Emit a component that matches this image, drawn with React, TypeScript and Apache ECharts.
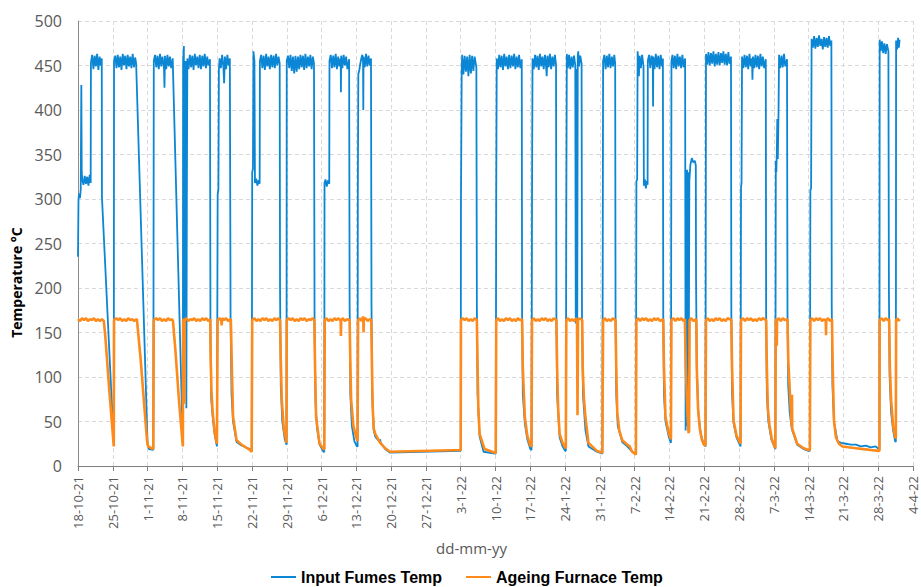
import React, { useEffect, useRef } from "react";
import * as echarts from "echarts";

// x values are days since 18-10-21
const tickLabels = [
  "18-10-21", "25-10-21", "1-11-21", "8-11-21", "15-11-21", "22-11-21", "29-11-21",
  "6-12-21", "13-12-21", "20-12-21", "27-12-21", "3-1-22", "10-1-22", "17-1-22",
  "24-1-22", "31-1-22", "7-2-22", "14-2-22", "21-2-22", "28-2-22", "7-3-22",
  "14-3-22", "21-3-22", "28-3-22", "4-4-22",
];

const seriesNames = ["Input Fumes Temp", "Ageing Furnace Temp"];

const inputFumesTemp = [
  [0,235],[0.1,300],[0.25,306],[0.4,301],[0.55,311],[0.67,428],[0.75,331],[0.85,322],[1.1,316],[1.35,326],[1.6,317],[1.85,325],[2.1,315],[2.35,327],[2.55,318],
  [2.6,453],[2.85,462],[3.1,446],[3.35,461],[3.6,449],[3.85,463],[4.1,445],[4.35,460],[4.6,450],[4.78,458],
  [4.82,302],[7.2,24],
  [7.25,455],[7.5,461],[7.75,447],[8.0,462],[8.25,448],[8.5,460],[8.75,445],[9.0,463],[9.25,450],[9.5,461],[9.75,446],[10.0,462],[10.25,449],[10.5,460],[10.75,447],[11.0,463],[11.25,448],[11.5,459],[11.7,452],
  [14.0,24],[14.3,19],[15.15,18],
  [15.25,455],[15.5,462],[15.75,448],[16.0,461],[16.25,446],[16.5,463],[16.75,449],[17.0,460],[17.3,447],[17.4,425],[17.5,461],[17.75,446],[18.0,462],[18.25,449],[18.5,460],[18.75,447],[19.05,458],
  [21.1,24],
  [21.15,455],[21.3,472],[21.4,160],[21.5,455],[21.6,300],[21.7,455],[21.8,65],[21.9,300],[22.0,458],[22.25,446],[22.5,462],[22.75,448],[23.0,461],[23.25,445],[23.5,463],[23.75,450],[24.0,460],[24.25,447],[24.5,462],[24.75,446],[25.0,461],[25.25,449],[25.5,463],[25.75,447],[26.0,460],[26.25,450],[26.55,457],
  [26.65,150],[26.8,75],[27.1,55],[27.5,35],[27.95,22],
  [28.05,22],[28.1,305],[28.25,311],[28.35,446],[28.5,458],[28.75,447],[29.0,462],[29.25,449],[29.4,430],[29.55,460],[29.8,446],[30.05,462],[30.3,450],[30.55,458],
  [30.7,160],[30.9,80],[31.2,50],[31.9,27],[32.9,23],[34.6,19],[34.95,17],
  [35.05,330],[35.2,334],[35.3,466],[35.5,455],[35.6,318],[35.85,323],[36.1,315],[36.35,321],[36.55,317],[36.6,455],[36.85,462],[37.1,447],[37.35,461],[37.6,445],[37.85,463],[38.1,449],[38.35,460],[38.6,446],[38.85,462],[39.1,448],[39.35,461],[39.6,447],[39.85,463],[40.1,450],[40.35,460],[40.58,452],
  [40.65,200],[40.8,90],[41.1,50],[41.6,30],[41.95,24],
  [42.0,455],[42.25,461],[42.5,447],[42.75,462],[43.0,444],[43.25,460],[43.5,441],[43.75,461],[44.0,443],[44.25,460],[44.5,446],[44.75,462],[45.0,448],[45.25,461],[45.5,445],[45.75,463],[46.0,447],[46.25,460],[46.5,449],[46.75,462],[47.0,446],[47.25,460],[47.48,452],
  [47.6,150],[47.8,70],[48.1,42],[48.6,24],[49.4,16],[49.55,16],
  [49.6,318],[49.8,322],[50.05,314],[50.3,321],[50.55,317],[50.6,455],[50.85,462],[51.1,447],[51.35,461],[51.6,448],[51.85,463],[52.1,446],[52.35,460],[52.6,449],[52.85,458],[52.9,420],[52.95,461],[53.2,447],[53.45,462],[53.7,450],[53.95,460],[54.2,446],[54.55,457],
  [54.65,180],[54.8,80],[55.1,45],[55.6,28],[56.1,22],[56.25,22],
  [56.3,305],[56.4,440],[56.6,445],[56.8,452],[57.0,458],[57.2,462],[57.35,455],[57.4,400],[57.45,460],[57.7,448],[57.95,463],[58.2,449],[58.45,461],[58.7,450],[58.95,458],
  [59.05,180],[59.2,80],[59.5,40],[59.8,33],[60.7,27],[60.8,30],[60.9,26],[61.8,19],[62.8,15],[77.0,17],
  [77.05,292],[77.2,445],[77.3,462],[77.55,440],[77.8,461],[78.05,443],[78.3,460],[78.55,438],[78.8,462],[79.05,441],[79.3,461],[79.55,444],[79.8,460],[80.15,448],
  [80.25,180],[80.4,80],[80.8,33],[81.6,16],[83.9,14],[84.05,14],
  [84.15,310],[84.25,458],[84.5,446],[84.75,462],[85.0,448],[85.25,461],[85.5,445],[85.75,463],[86.0,449],[86.25,460],[86.5,446],[86.75,462],[87.0,447],[87.25,461],[87.5,449],[87.75,463],[88.0,446],[88.25,460],[88.5,448],[88.75,462],[89.0,447],[89.28,457],
  [89.35,170],[89.5,80],[89.9,48],[90.4,30],[91.0,19],[91.25,18],
  [91.35,305],[91.45,458],[91.7,446],[91.95,462],[92.2,448],[92.45,461],[92.7,445],[92.95,463],[93.2,449],[93.45,460],[93.7,446],[93.95,462],[94.2,447],[94.3,438],[94.45,461],[94.7,448],[94.95,463],[95.2,446],[95.45,460],[95.7,449],[95.95,462],[96.18,451],
  [96.25,170],[96.4,80],[96.9,32],[97.5,22],[98.0,17],[98.15,17],
  [98.25,297],[98.35,463],[98.55,447],[98.8,462],[99.05,446],[99.3,460],[99.55,448],[99.8,461],[100.05,450],[100.15,160],[100.3,446],[100.45,165],[100.55,460],[100.65,466],[100.8,449],[101.05,461],[101.32,452],
  [101.4,170],[101.6,80],[102.1,40],[102.7,22],[104.4,16],[105.5,14],
  [105.65,455],[105.9,462],[106.15,446],[106.4,461],[106.65,448],[106.9,463],[107.15,447],[107.4,460],[107.65,449],[107.9,462],[108.08,452],
  [108.15,170],[108.3,80],[108.6,45],[109.5,27],[110.5,22],[111.5,16],[112.25,13],
  [112.35,320],[112.5,322],[112.6,466],[112.75,450],[112.85,438],[113.0,461],[113.25,447],[113.5,462],[113.78,449],[113.85,315],[114.05,322],[114.25,312],[114.45,320],[114.6,316],[114.65,455],[114.9,462],[115.15,447],[115.4,461],[115.65,449],[115.7,404],[115.75,460],[116.0,446],[116.25,463],[116.5,448],[116.75,461],[117.0,446],[117.25,462],[117.5,449],[117.68,458],
  [117.75,170],[117.9,80],[118.2,50],[118.9,32],[119.3,26],
  [119.4,455],[119.6,462],[119.85,447],[120.1,461],[120.35,446],[120.6,463],[120.85,449],[121.1,460],[121.35,447],[121.6,462],[121.85,448],[122.15,458],
  [122.25,40],[122.35,330],[122.45,45],[122.55,333],[122.65,50],[122.75,330],[122.85,40],[123.0,320],[123.2,338],[123.5,346],[123.8,341],[124.1,343],[124.3,338],
  [124.35,210],[124.5,110],[124.8,60],[125.3,36],[125.8,26],[126.25,22],
  [126.35,463],[126.6,451],[126.85,465],[127.1,450],[127.35,464],[127.6,452],[127.85,466],[128.1,449],[128.35,463],[128.6,451],[128.85,465],[129.1,450],[129.35,464],[129.6,453],[129.85,466],[130.1,451],[130.35,463],[130.6,450],[130.85,465],[131.1,452],[131.38,460],
  [131.45,170],[131.6,80],[131.9,48],[132.5,32],[133.3,22],
  [133.4,313],[133.5,318],[133.6,460],[133.85,447],[134.1,462],[134.35,448],[134.6,461],[134.85,446],[135.1,463],[135.35,449],[135.6,458],[135.7,434],[135.8,460],[136.05,447],[136.3,462],[136.55,448],[136.8,461],[137.05,446],[137.3,463],[137.55,449],[137.8,460],[138.05,447],[138.38,457],
  [138.45,170],[138.6,80],[138.9,50],[139.5,30],[140.3,19],
  [140.4,343],[140.5,330],[140.6,352],[140.7,390],[140.8,345],[140.95,400],[141.05,462],[141.3,447],[141.55,461],[141.8,448],[142.05,463],[142.3,449],[142.65,457],
  [142.75,170],[142.9,90],[143.2,60],[143.6,42],[144.7,24],[146.0,19],[147.0,17],[147.25,17],
  [147.35,310],[147.5,312],[147.6,480],[147.85,470],[148.1,483],[148.35,469],[148.6,481],[148.85,471],[149.1,484],[149.35,472],[149.6,480],[149.85,468],[150.1,482],[150.35,471],[150.6,481],[150.85,470],[151.1,483],[151.35,472],[151.58,478],
  [151.65,180],[151.8,90],[152.1,50],[152.8,28],[153.5,26],[154.5,25],[155.5,24],[156.5,24],[157.5,22],[158.5,23],[159.5,21],[160.5,22],[161.1,19],[161.25,19],
  [161.3,479],[161.5,466],[161.75,477],[162.0,464],[162.25,475],[162.5,463],[162.75,474],[163.05,466],
  [163.15,200],[163.3,100],[163.6,60],[164.0,40],[164.4,28],[164.55,27],
  [164.6,478],[164.8,468],[165.0,481],[165.15,470],[165.3,479],
];

const ageingFurnaceTemp = [
  [0,165],[0.4,163],[0.8,166],[1.2,164],[1.6,166],[2.0,163],[2.4,165],[2.8,164],[3.2,166],[3.6,163],[4.0,165],[4.4,163],[4.8,165],[5.2,163],
  [5.5,145],[6.3,85],[7.2,22],
  [7.25,164],[7.7,166],[8.1,164],[8.5,166],[8.9,163],[9.3,165],[9.7,163],[10.1,166],[10.5,164],[10.9,165],[11.3,163],[11.85,165],
  [12.6,120],[13.3,70],[13.9,28],[14.1,22],[15.15,19],
  [15.25,164],[15.7,166],[16.1,164],[16.5,166],[16.9,163],[17.3,165],[17.7,163],[18.1,166],[18.5,164],[18.95,165],
  [19.1,163],[19.6,130],[20.3,75],[21.0,28],[21.1,22],
  [21.15,164],[21.35,165],[21.4,70],[21.45,164],[21.8,166],[22.2,163],[22.6,165],[23.0,164],[23.4,166],[23.8,163],[24.2,165],[24.6,163],[25.0,166],[25.4,164],[25.8,166],[26.2,163],[26.6,165],
  [26.7,120],[26.85,85],[27.1,60],[27.5,38],[27.95,25],
  [28.1,164],[28.5,166],[28.85,163],[28.9,158],[29.0,166],[29.4,164],[29.8,166],[30.2,163],[30.75,165],
  [31.0,100],[31.2,55],[31.9,29],[32.9,24],[34.6,18],[34.95,16],
  [35.05,164],[35.5,166],[35.9,163],[36.3,165],[36.7,163],[37.1,166],[37.5,164],[37.9,166],[38.3,163],[38.7,165],[39.1,163],[39.5,166],[39.9,164],[40.3,166],[40.65,164],
  [40.8,120],[41.0,75],[41.4,42],[41.95,26],
  [42.0,164],[42.4,166],[42.8,164],[43.2,166],[43.6,163],[44.0,165],[44.4,163],[44.8,166],[45.2,164],[45.6,166],[46.0,163],[46.4,165],[46.8,164],[47.2,166],[47.55,164],
  [47.7,110],[47.9,55],[48.6,25],[49.4,19],[49.55,19],
  [49.65,164],[50.0,166],[50.4,163],[50.8,165],[51.2,163],[51.6,166],[52.0,164],[52.4,166],[52.85,163],[52.9,146],[52.95,164],[53.3,166],[53.7,163],[54.1,165],[54.65,164],
  [54.8,115],[54.95,75],[55.4,45],[56.1,30],[56.25,28],
  [56.35,164],[56.7,166],[57.0,163],[57.4,168],[57.45,150],[57.5,164],[57.9,166],[58.3,163],[58.7,165],[59.0,164],
  [59.15,110],[59.3,65],[59.5,42],[59.8,36],[60.8,26],[61.8,20],[62.8,16],[77.0,18],
  [77.05,164],[77.4,166],[77.8,164],[78.2,166],[78.6,163],[79.0,165],[79.4,163],[79.8,166],[80.25,164],
  [80.4,110],[80.55,65],[80.8,36],[81.8,19],[83.9,15],[84.05,15],
  [84.15,164],[84.5,166],[84.9,163],[85.3,165],[85.7,163],[86.1,166],[86.5,164],[86.9,166],[87.3,163],[87.7,165],[88.1,163],[88.5,166],[88.9,164],[89.35,165],
  [89.5,110],[89.9,55],[90.4,34],[91.0,23],[91.25,22],
  [91.35,164],[91.7,166],[92.1,163],[92.5,165],[92.9,163],[93.3,166],[93.7,164],[94.1,166],[94.5,163],[94.9,165],[95.3,163],[95.7,166],[96.25,164],
  [96.4,110],[96.6,65],[96.9,36],[97.5,26],[98.0,21],[98.15,20],
  [98.25,164],[98.6,166],[99.0,163],[99.4,165],[99.8,163],[100.2,166],[100.4,164],[100.5,57],[100.6,164],[100.9,166],[101.45,164],
  [101.55,110],[101.8,75],[102.1,55],[102.7,26],[104.4,17],[105.5,15],
  [105.65,164],[106.0,166],[106.4,163],[106.8,165],[107.2,163],[107.6,166],[108.15,164],
  [108.3,110],[108.5,60],[108.9,40],[109.5,29],[110.5,24],[111.0,22],[111.5,16],[112.25,13],
  [112.35,164],[112.7,166],[113.1,163],[113.5,166],[113.9,164],[114.3,166],[114.7,163],[115.1,165],[115.5,163],[115.9,166],[116.3,164],[116.7,166],[117.1,163],[117.75,165],
  [117.9,110],[118.2,55],[118.9,36],[119.3,30],
  [119.4,164],[119.8,166],[120.2,163],[120.6,166],[121.0,164],[121.4,166],[121.8,163],[122.1,165],
  [122.3,110],[122.6,60],[122.85,37],[122.95,40],[123.05,164],[123.4,166],[123.8,163],[124.4,165],
  [124.5,110],[124.75,65],[125.1,42],[125.5,30],[125.9,24],[126.25,23],
  [126.35,164],[126.7,166],[127.1,163],[127.5,165],[127.9,163],[128.3,166],[128.7,164],[129.1,166],[129.5,163],[129.9,165],[130.3,163],[130.7,166],[131.45,164],
  [131.6,110],[131.9,51],[132.5,34],[133.3,25],
  [133.4,164],[133.8,166],[134.2,163],[134.6,166],[135.0,164],[135.4,166],[135.8,163],[136.2,165],[136.6,163],[137.0,166],[137.4,164],[137.8,166],[138.45,164],
  [138.6,110],[138.8,65],[139.1,47],[139.6,30],[140.3,20],
  [140.4,164],[140.55,165],[140.6,135],[140.65,164],[141.0,166],[141.4,163],[141.8,166],[142.2,164],[142.75,165],
  [142.9,120],[143.3,74],[143.6,45],[143.65,80],[143.7,42],[144.7,25],[146.0,20],[147.0,18],[147.25,18],
  [147.35,164],[147.7,166],[148.1,163],[148.5,166],[148.9,164],[149.3,166],[149.7,163],[150.1,165],[150.45,163],[150.5,147],[150.55,164],[150.9,166],[151.3,163],[151.7,165],
  [151.85,110],[152.1,51],[152.5,32],[153.1,25],[153.8,22],[155.0,21],[156.5,20],[158.0,19],[159.5,18],[161.1,17],[161.25,17],
  [161.3,164],[161.7,166],[162.1,163],[162.5,166],[162.9,164],[163.2,165],
  [163.35,110],[163.6,74],[164.0,45],[164.4,33],[164.55,31],
  [164.6,164],[164.9,166],[165.1,163],[165.3,165],
];

const BLUE = "#0a86d4";
const ORANGE = "#fd8a1b";
const GRAY_TEXT = "#595959";

export default function App() {
  const ref = useRef<HTMLDivElement | null>(null);

  useEffect(() => {
    if (!ref.current) return;
    const chart = echarts.init(ref.current, undefined, { renderer: "svg" });
    chart.setOption({
      animation: false,
      backgroundColor: "#ffffff",
      grid: {
        left: 78,
        right: 8,
        top: 21,
        bottom: 121,
        containLabel: false,
        outerBoundsMode: "none",
      },
      legend: {
        show: true,
        left: 266,
        top: 564,
        icon: "rect",
        itemWidth: 25,
        itemHeight: 2,
        itemGap: 24,
        textStyle: {
          fontFamily: "Liberation Sans",
          fontWeight: "bold",
          fontSize: 16,
          color: "#000000",
        },
        data: seriesNames,
      },
      xAxis: {
        type: "value",
        min: 0,
        max: 168,
        interval: 7,
        name: "dd-mm-yy",
        nameLocation: "middle",
        nameGap: 74,
        nameTextStyle: {
          fontFamily: "Open Sans",
          fontSize: 15,
          color: GRAY_TEXT,
          padding: [0, 48, 0, 0],
        },
        axisLine: { show: true, lineStyle: { color: "#7f7f7f", width: 1 } },
        axisTick: { show: true, length: 5, lineStyle: { color: "#7f7f7f" } },
        axisLabel: {
          rotate: 90,
          margin: 10,
          fontFamily: "Open Sans",
          fontSize: 13,
          color: GRAY_TEXT,
          formatter: (v: number) => tickLabels[Math.round(v / 7)] ?? "",
        },
        splitLine: {
          show: true,
          lineStyle: { color: "#d9d9d9", type: [4, 3], width: 1 },
        },
      },
      yAxis: {
        type: "value",
        min: 0,
        max: 500,
        interval: 50,
        name: "Temperature °C",
        nameLocation: "middle",
        nameGap: 53,
        nameTextStyle: {
          fontFamily: "Open Sans",
          fontWeight: "bold",
          fontSize: 14,
          color: "#000000",
          padding: [0, 78, 0, 0],
        },
        axisLine: { show: true, lineStyle: { color: "#8c8c8c", width: 1 } },
        axisTick: { show: false },
        axisLabel: {
          margin: 16,
          fontFamily: "Open Sans",
          fontSize: 16,
          color: GRAY_TEXT,
        },
        splitLine: {
          show: true,
          lineStyle: { color: "#d9d9d9", type: [4, 3], width: 1 },
        },
      },
      series: [
        {
          name: seriesNames[0],
          type: "line",
          data: inputFumesTemp,
          symbol: "none",
          showSymbol: false,
          color: BLUE,
          lineStyle: { color: BLUE, width: 1.8 },
          silent: true,
          z: 2,
        },
        {
          name: seriesNames[1],
          type: "line",
          data: ageingFurnaceTemp,
          symbol: "none",
          showSymbol: false,
          color: ORANGE,
          lineStyle: { color: ORANGE, width: 2.6 },
          silent: true,
          z: 3,
        },
      ],
    });
    return () => {
      chart.dispose();
    };
  }, []);

  return (
    <div
      ref={ref}
      style={{
        position: "fixed",
        left: 0,
        top: 0,
        width: 921,
        height: 587,
        background: "#ffffff",
      }}
    />
  );
}
